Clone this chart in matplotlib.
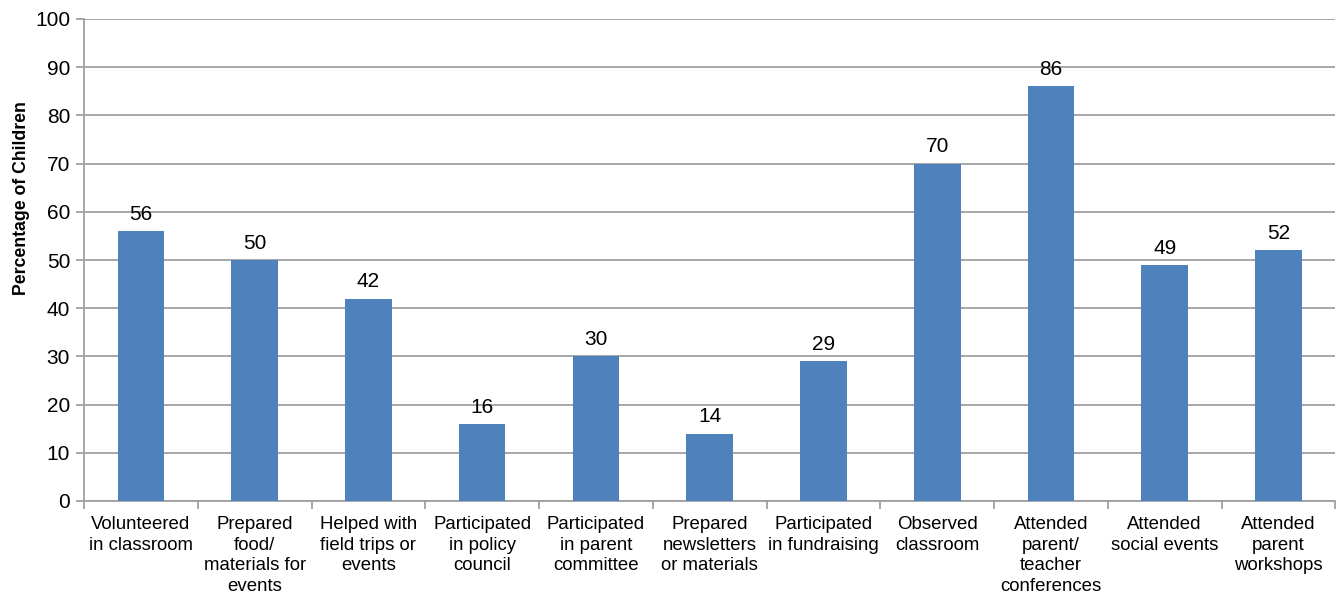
import matplotlib
matplotlib.use("Agg")
import matplotlib.pyplot as plt
import numpy as np

categories = [
    "Volunteered\nin classroom",
    "Prepared\nfood/\nmaterials for\nevents",
    "Helped with\nfield trips or\nevents",
    "Participated\nin policy\ncouncil",
    "Participated\nin parent\ncommittee",
    "Prepared\nnewsletters\nor materials",
    "Participated\nin fundraising",
    "Observed\nclassroom",
    "Attended\nparent/\nteacher\nconferences",
    "Attended\nsocial events",
    "Attended\nparent\nworkshops",
]
values = [56, 50, 42, 16, 30, 14, 29, 70, 86, 49, 52]
y_ticks = list(range(0, 101, 10))
y_label = "Percentage of Children"

plt.rcParams["font.family"] = ["Liberation Sans", "DejaVu Sans"]

fig = plt.figure(figsize=(13.36, 5.94), dpi=100)
ax = fig.add_axes([84 / 1336, 1 - 501 / 594, 1 - 84 / 1336 - 0.0005, (501 - 19) / 594])

x = np.arange(len(categories))
bar_color = "#4f81bd"
grid_color = "#a0a0a0"

ax.bar(x, values, width=0.41, color=bar_color, zorder=3)
for xi, v in zip(x, values):
    ax.text(xi, v + 1.5, f"{v}", ha="center", va="bottom", fontsize=15, color="#000000")

ax.set_xlim(-0.5, len(categories) - 0.5)
ax.set_ylim(0, 100)
ax.set_yticks(y_ticks)
ax.set_yticklabels([str(t) for t in y_ticks], fontsize=15)
ax.yaxis.grid(True, color=grid_color, linewidth=1.3, zorder=0)
ax.set_axisbelow(True)

ax.set_xticks(x)
ax.set_xticklabels(categories, fontsize=13.4, linespacing=1.27)
ax.tick_params(axis="x", length=0, pad=11)
ax.set_xticks(np.arange(-0.5, len(categories)), minor=True)
ax.tick_params(axis="x", which="minor", length=6, color=grid_color, width=1.3)
ax.tick_params(axis="y", length=6, color=grid_color, width=1.3, pad=4)

for side in ("top", "right"):
    ax.spines[side].set_visible(False)
for side in ("left", "bottom"):
    ax.spines[side].set_color(grid_color)
    ax.spines[side].set_linewidth(1.3)

ax.set_ylabel(y_label, fontsize=12.7, fontweight="bold")
ax.yaxis.set_label_coords(-0.043, 0.629)

fig.savefig("out.png", dpi=100)
